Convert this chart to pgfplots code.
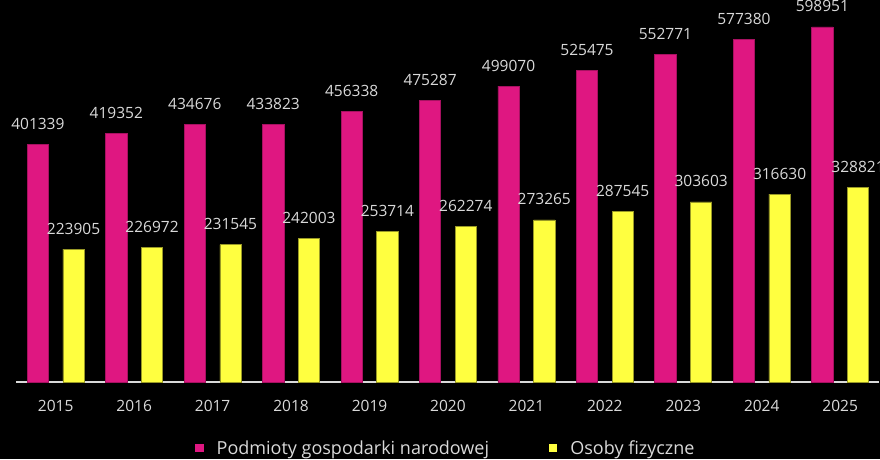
\documentclass[border=0pt]{standalone}
\usepackage{pgfplots}
\pgfplotsset{compat=1.18}
\usepackage{pgfplotstable}
\usepackage{fontspec}
\setmainfont{Open Sans}
\definecolor{mag}{HTML}{DF1781}
\definecolor{yel}{HTML}{FFFF40}
\definecolor{lbl}{HTML}{D9D9D9}
\pgfplotstableread{
x a b
0 401339 223905
1 419352 226972
2 434676 231545
3 433823 242003
4 456338 253714
5 475287 262274
6 499070 273265
7 525475 287545
8 552771 303603
9 577380 316630
10 598951 328821
}\data
\begin{document}
\begin{tikzpicture}
\useasboundingbox (0,0) rectangle (880pt,459pt);
\fill[black] (0,0) rectangle (880pt,459pt);
\begin{axis}[
  at={(16.5pt,77pt)}, anchor=south west, scale only axis,
  width=862.9pt, height=385.45pt,
  xmin=-0.5, xmax=10.5, ymin=0, ymax=650000,
  axis y line=none, axis x line*=bottom,
  x axis line style={lbl, line width=1.5pt},
  major tick length=0, ytick=\empty,
  xtick={0,...,10},
  xticklabels={2015,2016,2017,2018,2019,2020,2021,2022,2023,2024,2025},
  xticklabel style={font=\fontsize{15.5}{18}\selectfont, text=lbl, anchor=base, yshift=-29.7pt},
  ybar, bar width=21.3pt,
  nodes near coords, point meta=explicit symbolic,
  every node near coord/.append style={font=\fontsize{15.5}{18}\selectfont, text=lbl, anchor=base, yshift=15pt, inner sep=0pt},
  clip=false,
  legend columns=2,
  legend style={draw=none, fill=none, text=lbl, font=\fontsize{18}{21}\selectfont,
    at={(0.4977,-0.172)}, anchor=center,
    /tikz/every even column/.append style={column sep=58pt}},
  legend image code/.code={\fill[#1, draw=none] (0pt,-4pt) rectangle (8.3pt,4.3pt); \path[draw=none, fill=none] (0pt,0pt) -- (19.3pt,0pt);},
]
\addplot[fill=mag, draw=mag!75!black, line width=0.6pt, bar shift=-17.85pt] table[x=x, y=a, meta=a] {\data};
\addlegendentry{Podmioty gospodarki narodowej}
\addplot[fill=yel, draw=yel!60!black, line width=0.6pt, bar shift=17.85pt] table[x=x, y=b, meta=b] {\data};
\addlegendentry{Osoby fizyczne}
\end{axis}
\end{tikzpicture}
\end{document}
